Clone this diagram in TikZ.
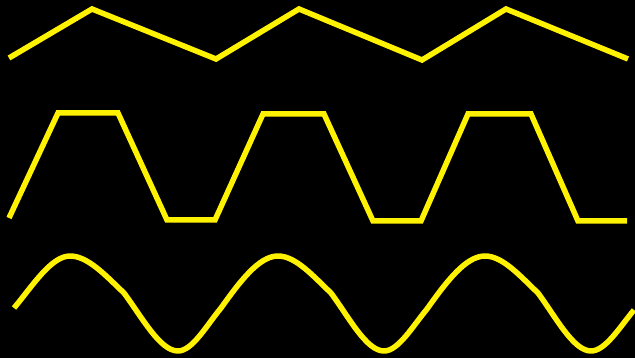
\documentclass[tikz,border=0pt]{standalone}
\begin{document}
\begin{tikzpicture}[x=1pt,y=-1pt,
  wave/.style={draw=yellow,line width=5.5pt,line join=miter}]
\fill[black] (0,0) rectangle (635,358);
\useasboundingbox (0,0) rectangle (635,358);
% triangle wave
\draw[wave] (9,58) -- (92,9) -- (216,59) -- (299,9) -- (422,60) -- (506,9) -- (628,59);
% trapezoid wave
\draw[wave] (9,218) -- (58,113) -- (118,113) -- (167,220) -- (215,220) -- (263,114)
  -- (324,114) -- (373,221) -- (421,221) -- (468,114) -- (531,114) -- (578,221) -- (627,221);
% sine-like wave
\draw[wave,line join=round]
  (14,308) .. controls (32.7,285.6) and (51.3,256) .. (70,256)
  .. controls (88,256) and (106,275.9) .. (124,293)
  .. controls (142,317.3) and (160,351) .. (178,351)
  .. controls (192.3,351) and (206.7,325.2) .. (221,308)
  .. controls (240,281.4) and (259,256) .. (278,256)
  .. controls (295.7,256) and (313.3,276.2) .. (331,293)
  .. controls (348.7,316.9) and (366.3,351) .. (384,351)
  .. controls (398.3,351) and (412.7,326.2) .. (427,309)
  .. controls (446.3,281.9) and (465.7,256) .. (485,256)
  .. controls (502.7,256) and (520.3,276.2) .. (538,293)
  .. controls (555.7,316.9) and (573.3,351) .. (591,351)
  .. controls (605.3,351) and (619.7,327.2) .. (634,310);
\end{tikzpicture}
\end{document}
